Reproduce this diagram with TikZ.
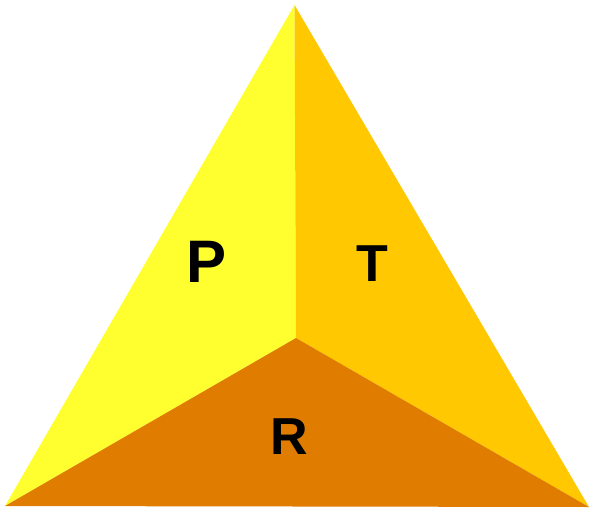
\documentclass[tikz,border=0pt]{standalone}
\usepackage{fontspec}
\setmainfont{Liberation Sans}
\definecolor{faceL}{RGB}{255,255,47}
\definecolor{faceR}{RGB}{255,200,0}
\definecolor{faceB}{RGB}{224,125,0}
\tikzset{
  face/.style={draw=none},
  lbl/.style={inner sep=0pt, font=\bfseries},
}
\begin{document}
\begin{tikzpicture}[x=1pt,y=-1pt]
\useasboundingbox (0,0) rectangle (592,512);
\coordinate (top) at (294.5,5);
\coordinate (bl) at (5,506);
\coordinate (br) at (589,507);
\coordinate (c) at (296,338);
\fill[face, faceL] (top) -- (c) -- (bl) -- cycle;
\fill[face, faceR] (top) -- (br) -- (c) -- cycle;
\fill[face, faceB] (bl) -- (c) -- (br) -- cycle;
\node[lbl, font=\fontsize{60}{60}\selectfont\bfseries] (P) at (206.5,261.5) {P};
\node[lbl, font=\fontsize{52}{52}\selectfont\bfseries] (T) at (372.5,263.5) {T};
\node[lbl, font=\fontsize{52}{52}\selectfont\bfseries] (R) at (289,437) {R};
\end{tikzpicture}
\end{document}
